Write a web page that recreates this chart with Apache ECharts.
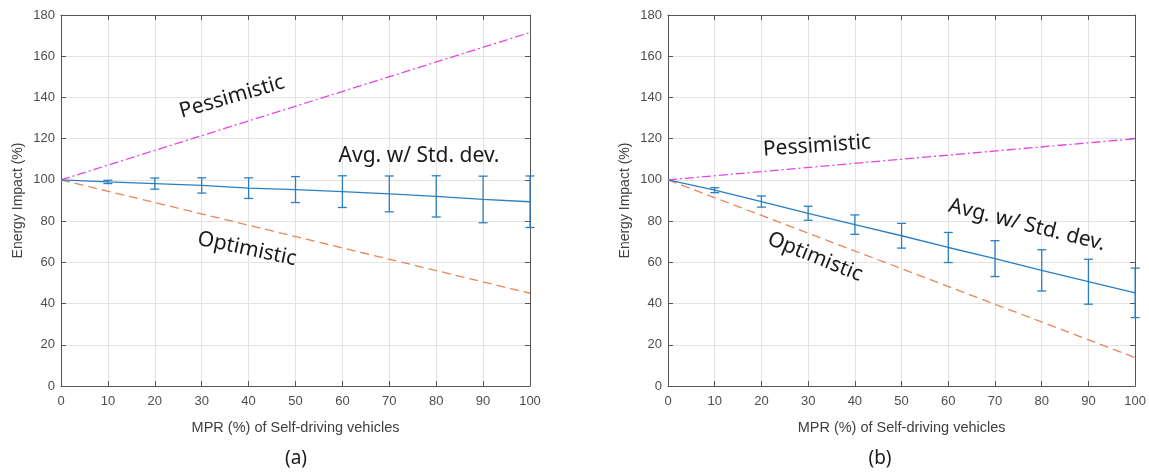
<!DOCTYPE html>
<html>
<head>
<meta charset="utf-8">
<script src="https://cdn.jsdelivr.net/npm/echarts@6/dist/echarts.min.js"></script>
<style>html,body{margin:0;padding:0;background:#fff;}#c{width:1149px;height:473px;}</style>
</head>
<body>
<div id="c"></div>
<script>
// ---- data ----
const mpr = [0, 10, 20, 30, 40, 50, 60, 70, 80, 90, 100];
const xTicks = [0, 10, 20, 30, 40, 50, 60, 70, 80, 90, 100];
const yTicks = [0, 20, 40, 60, 80, 100, 120, 140, 160, 180];

// panel (a)
const avgA = [100, 99, 98.2, 97.3, 96, 95.3, 94.3, 93.2, 92, 90.5, 89.4];
const stdA = [0, 0.8, 2.7, 3.7, 5, 6.3, 7.7, 8.7, 10, 11.3, 12.5];
const pessA = [100, 171.5];
const optA = [100, 45];

// panel (b)
const avgB = [100, 95, 89.5, 83.8, 78.3, 72.9, 67.2, 61.8, 56.1, 50.6, 45.2];
const stdB = [0, 1.2, 2.7, 3.4, 4.7, 6, 7.3, 8.7, 10, 10.9, 12];
const pessB = [100, 120];
const optB = [100, 13.8];

const lineEnds = [0, 100];

// ---- styling ----
const axisColor = '#555';
const gridColor = '#e3e3e3';
const labelFont = {fontFamily: 'Liberation Sans', fontSize: 13, color: '#4d4d4d'};
const blue = '#2a7fc4';
const orange = '#e6875a';
const magenta = '#e645e6';

function pairs(xs, ys){ return xs.map((x,i)=>[x, ys[i]]); }
function errData(avg, std){ return mpr.map((x,i)=>[x, avg[i]-std[i], avg[i]+std[i]]).filter((d,i)=>std[i]>0); }

function xAxisPair(gi){
  return [
    {gridIndex: gi, type:'value', min:0, max:100, interval:10, position:'bottom',
     axisLine:{show:true, lineStyle:{color:axisColor}},
     axisTick:{show:true, inside:true, length:5, lineStyle:{color:axisColor}},
     axisLabel:Object.assign({margin:9}, labelFont),
     splitLine:{show:true, lineStyle:{color:gridColor}},
     name:'MPR (%) of Self-driving vehicles', nameLocation:'middle', nameGap:34,
     nameTextStyle:{fontFamily:'Liberation Sans', fontSize:14.5, color:'#404040'}},
    {gridIndex: gi, type:'value', min:0, max:100, interval:10, position:'top',
     axisLine:{show:true, onZero:false, lineStyle:{color:axisColor}},
     axisTick:{show:true, inside:true, length:5, lineStyle:{color:axisColor}},
     axisLabel:{show:false}, splitLine:{show:false}}
  ];
}
function yAxisPair(gi){
  return [
    {gridIndex: gi, type:'value', min:0, max:180, interval:20, position:'left',
     axisLine:{show:true, onZero:false, lineStyle:{color:axisColor}},
     axisTick:{show:true, inside:true, length:5, lineStyle:{color:axisColor}},
     axisLabel:Object.assign({margin:6}, labelFont),
     splitLine:{show:true, lineStyle:{color:gridColor}},
     name:'Energy Impact (%)', nameLocation:'middle', nameGap:36, nameRotate:90,
     nameTextStyle:{fontFamily:'Liberation Sans', fontSize:14, color:'#404040'}},
    {gridIndex: gi, type:'value', min:0, max:180, interval:20, position:'right',
     axisLine:{show:true, onZero:false, lineStyle:{color:axisColor}},
     axisTick:{show:true, inside:true, length:5, lineStyle:{color:axisColor}},
     axisLabel:{show:false}, splitLine:{show:false}}
  ];
}

function errSeries(xi, yi, data){
  return {
    type:'custom', xAxisIndex:xi, yAxisIndex:yi, clip:false, z:5,
    data:data,
    renderItem:function(params, api){
      const x = api.value(0);
      const lo = api.coord([x, api.value(1)]);
      const hi = api.coord([x, api.value(2)]);
      const w = 4.5;
      const st = {stroke: blue, lineWidth: 1.3};
      return {type:'group', children:[
        {type:'line', shape:{x1:lo[0], y1:lo[1], x2:hi[0], y2:hi[1]}, style:st},
        {type:'line', shape:{x1:lo[0]-w, y1:lo[1], x2:lo[0]+w, y2:lo[1]}, style:st},
        {type:'line', shape:{x1:hi[0]-w, y1:hi[1], x2:hi[0]+w, y2:hi[1]}, style:st}
      ]};
    }
  };
}
function lineSeries(xi, yi, data, color, type){
  return {type:'line', xAxisIndex:xi, yAxisIndex:yi, data:data, showSymbol:false, symbol:'none',
          lineStyle:{color:color, width:1.3, type:type}, silent:true, animation:false};
}

const annoFont = 'Noto Sans';
function anno(text, x, y, rotDeg){
  return {type:'text', x:x, y:y, z:100, zlevel:1, rotation: rotDeg*Math.PI/180,
          style:{text:text, font:'21px "'+annoFont+'"', fill:'#1a1a1a', align:'center', verticalAlign:'middle'}};
}

const chart = echarts.init(document.getElementById('c'), null, {renderer:'canvas'});
chart.setOption({
  animation:false,
  backgroundColor:'#fff',
  grid:[
    {left:61, top:15, width:469, height:371},
    {left:668, top:15, width:469, height:371}
  ],
  xAxis: xAxisPair(0).concat(xAxisPair(1)),
  yAxis: yAxisPair(0).concat(yAxisPair(1)),
  series:[
    lineSeries(0,0,pairs(lineEnds,pessA),magenta,[9,3,2,3]),
    lineSeries(0,0,pairs(lineEnds,optA),orange,[9,5]),
    lineSeries(0,0,pairs(mpr,avgA),blue,'solid'),
    errSeries(0,0,errData(avgA,stdA)),
    lineSeries(2,2,pairs(lineEnds,pessB),magenta,[9,3,2,3]),
    lineSeries(2,2,pairs(lineEnds,optB),orange,[9,5]),
    lineSeries(2,2,pairs(mpr,avgB),blue,'solid'),
    errSeries(2,2,errData(avgB,stdB))
  ],
  graphic:[
    anno('Pessimistic', 232, 97, 16),
    anno('Avg. w/ Std. dev.', 419, 156, 0),
    anno('Optimistic', 247, 249, -12),
    anno('Pessimistic', 817, 146, 4),
    anno('Avg. w/ Std. dev.', 1027, 225, -14),
    anno('Optimistic', 815, 257, -22),
    {type:'text', x:296, y:459, z:100, style:{text:'(a)', font:'19px "Noto Sans"', fill:'#1a1a1a', align:'center', verticalAlign:'middle'}},
    {type:'text', x:880, y:459, z:100, style:{text:'(b)', font:'19px "Noto Sans"', fill:'#1a1a1a', align:'center', verticalAlign:'middle'}}
  ]
});
</script>
</body>
</html>
